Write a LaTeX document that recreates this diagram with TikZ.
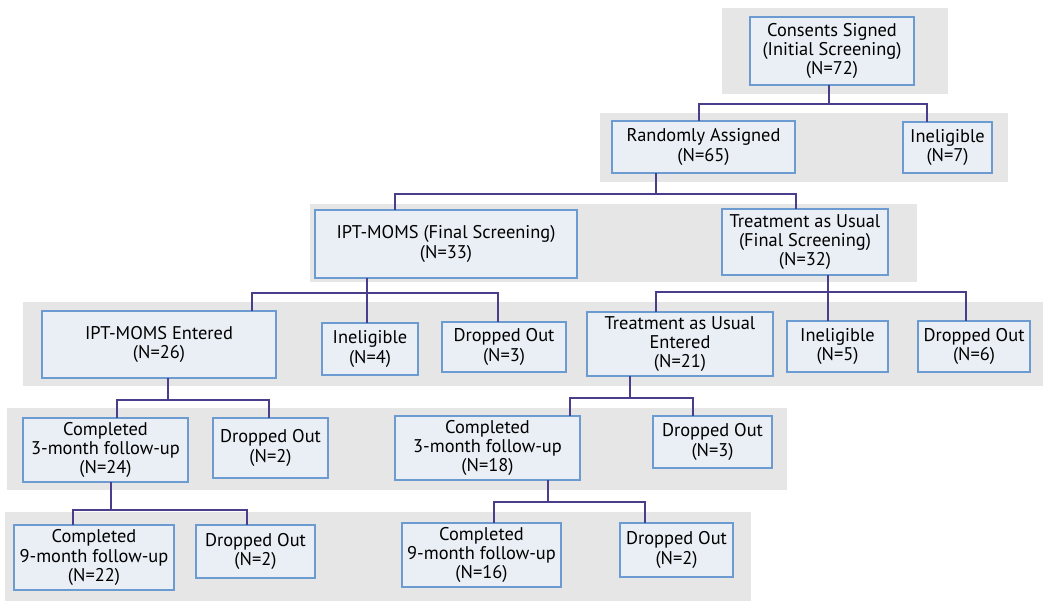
\documentclass[tikz,border=0pt]{standalone}
\usepackage{fontspec}
\setmainfont{PT Sans}
\definecolor{bandgray}{HTML}{E6E6E6}
\definecolor{boxfill}{HTML}{E9EFF5}
\definecolor{boxline}{HTML}{6C9BD2}
\definecolor{connline}{HTML}{4A3D8C}
\tikzset{
  band/.style={fill=bandgray, draw=none},
  box/.style={draw=boxline, fill=boxfill, line width=0.9pt, inner sep=0pt, outer sep=0pt,
    align=center, font=\fontsize{13.8}{14.4}\selectfont},
  conn/.style={draw=connline, line width=1.4pt}
}
\newcommand{\bx}[6]{\node[box, minimum width={(#4-#2)*0.75pt}, minimum height={(#5-#3)*0.75pt}] (#1) at ({(#2+#4)/2},{(#3+#5)/2}) {#6};}
\begin{document}
\begin{tikzpicture}[x=0.75pt,y=-0.75pt]
\useasboundingbox (0,0) rectangle (1050,615);
% bands
\fill[band] (722,8) rectangle (948,94);
\fill[band] (600,113) rectangle (1008,182);
\fill[band] (310,204) rectangle (917,282);
\fill[band] (23,302) rectangle (1043,386);
\fill[band] (7,408) rectangle (787,490);
\fill[band] (5,512) rectangle (751,601);
% boxes
\bx{cs}{750}{17}{914}{85}{Consents Signed\\(Initial Screening)\\(N=72)}
\bx{ra}{612}{121}{795}{173}{Randomly Assigned\\(N=65)}
\bx{inA}{903}{122}{992}{173}{Ineligible\\(N=7)}
\bx{ipf}{315}{210}{577}{278}{IPT-MOMS (Final Screening)\\(N=33)}
\bx{tauf}{722}{209}{888}{275}{Treatment as Usual\\(Final Screening)\\(N=32)}
\bx{ipe}{42}{311}{276}{378}{IPT-MOMS Entered\\(N=26)}
\bx{inB}{322}{323}{418}{375}{Ineligible\\(N=4)}
\bx{drB}{442}{322}{566}{372}{Dropped Out\\(N=3)}
\bx{taue}{587}{312}{773}{376}{Treatment as Usual\\Entered\\(N=21)}
\bx{inC}{787}{321}{888}{372}{Ineligible\\(N=5)}
\bx{drC}{918}{321}{1030}{372}{Dropped Out\\(N=6)}
\bx{cA}{23}{418}{188}{482}{Completed\\3-month follow-up\\(N=24)}
\bx{drD}{213}{418}{328}{478}{Dropped Out\\(N=2)}
\bx{cB}{395}{416}{580}{480}{Completed\\3-month follow-up\\(N=18)}
\bx{drE}{653}{416}{772}{468}{Dropped Out\\(N=3)}
\bx{cC}{14}{525}{174}{590}{Completed\\9-month follow-up\\(N=22)}
\bx{drF}{196}{525}{315}{578}{Dropped Out\\(N=2)}
\bx{cD}{402}{523}{561}{587}{Completed\\9-month follow-up\\(N=16)}
\bx{drG}{620}{523}{733}{577}{Dropped Out\\(N=2)}
% junction coordinates
\coordinate (j1) at (829,104);
\coordinate (j2) at (656,194);
\coordinate (j3) at (367,293);
\coordinate (j4) at (828,292);
\coordinate (j5) at (168,400);
\coordinate (j6) at (630,398);
\coordinate (j7) at (111,510);
\coordinate (j8) at (548,502);
% connectors
\draw[conn] (cs.south -| j1) -- (j1);
\draw[conn] (ra.north -| 699,0) |- (j1) -| (inA.north -| 927,0);
\draw[conn] (ra.south -| j2) -- (j2);
\draw[conn] (ipf.north -| 395,0) |- (j2) -| (tauf.north -| 796,0);
\draw[conn] (ipf.south -| j3) -- (inB.north -| j3);
\draw[conn] (ipe.north -| 252,0) |- (j3) -| (drB.north -| 498,0);
\draw[conn] (tauf.south -| j4) -- (inC.north -| j4);
\draw[conn] (taue.north -| 656,0) |- (j4) -| (drC.north -| 966,0);
\draw[conn] (ipe.south -| j5) -- (j5);
\draw[conn] (cA.north -| 117,0) |- (j5) -| (drD.north -| 269,0);
\draw[conn] (taue.south -| j6) -- (j6);
\draw[conn] (cB.north -| 570,0) |- (j6) -| (drE.north -| 693,0);
\draw[conn] (cA.south -| j7) -- (j7);
\draw[conn] (cC.north -| 73,0) |- (j7) -| (drF.north -| 247,0);
\draw[conn] (cB.south -| j8) -- (j8);
\draw[conn] (cD.north -| 494,0) |- (j8) -| (drG.north -| 645,0);
\end{tikzpicture}
\end{document}
